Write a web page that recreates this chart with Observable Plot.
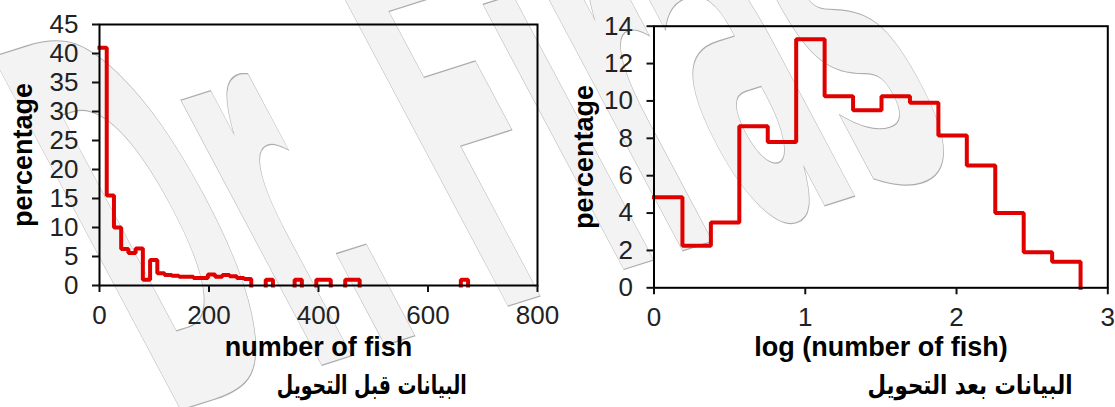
<!DOCTYPE html>
<html>
<head>
<meta charset="utf-8">
<script src="https://cdn.jsdelivr.net/npm/d3@7"></script>
<script src="https://cdn.jsdelivr.net/npm/@observablehq/plot@0.6"></script>
<style>
  html, body { margin: 0; padding: 0; background: #fff; }
  #wrap { position: relative; width: 1115px; height: 407px; overflow: hidden; background: #fff; }
  .chart { position: absolute; top: 0; }
  #wm { position: absolute; left: 0; top: 0; }
  .cap { position: absolute; top: 372px; font-family: "DejaVu Sans", sans-serif; font-weight: bold;
         font-size: 26px; line-height: 1; direction: rtl; white-space: nowrap; color: #000;
         transform-origin: 50% 50%; }
</style>
</head>
<body>
<div id="wrap">
  <svg id="wm" width="1115" height="407">
    <text transform="translate(165,415) rotate(-17.6) skewX(10.4)" textLength="845" lengthAdjust="spacingAndGlyphs"
      font-family="'DejaVu Sans', sans-serif" font-weight="bold" font-size="540"
      fill="#f3f3f3" stroke="#adadad" stroke-width="1.3">Dr. Firas</text>
  </svg>
</div>
<script>
// ---- Left chart: histogram of number of fish (percentage per bin) ----
const leftEdges = [0, 13.2, 26.4, 39.6, 52.8, 66, 79.2, 92.4, 105.6, 118.8, 132, 145.2, 158.4, 171.6,
  184.8, 198, 211.2, 224.4, 237.6, 250.8, 264, 277.2, 290.4, 303.6, 316.8, 330, 343.2, 356.4, 369.6,
  382.8, 396, 409.2, 422.4, 435.6, 448.8, 462, 475.2, 488.4, 501.6, 514.8, 528, 541.2, 554.4, 567.6,
  580.8, 594, 607.2, 620.4, 633.6, 646.8, 660, 673.2];
const leftPct = [41, 15.5, 10, 6.3, 5.6, 6.4, 1.0, 4.4, 2.1, 1.8, 1.7, 1.5, 1.5, 1.3, 1.3, 1.9, 1.5,
  1.8, 1.6, 1.3, 1.1, 0, 0, 1.0, 0, 0, 0, 1.0, 0, 0, 1.0, 1.0, 0, 0, 1.0, 1.0,
  0, 0, 0, 0, 0, 0, 0, 0, 0, 0, 0, 0, 0, 0, 1.0];
const leftXTicks = [0, 200, 400, 600, 800];
const leftYTicks = [0, 5, 10, 15, 20, 25, 30, 35, 40, 45];

// ---- Right chart: histogram of log(number of fish) ----
const rightEdges = [0, 0.188, 0.376, 0.564, 0.752, 0.94, 1.128, 1.316, 1.504, 1.692, 1.88, 2.068,
  2.256, 2.444, 2.632, 2.82];
const rightPct = [4.85, 2.25, 3.5, 8.65, 7.8, 13.3, 10.25, 9.5, 10.25, 9.9, 8.15, 6.55, 4.0, 1.9, 1.4];
const rightXTicks = [0, 1, 2, 3];
const rightYTicks = [0, 2, 4, 6, 8, 10, 12, 14];

const xLabelLeft = "number of fish";
const xLabelRight = "log (number of fish)";
const yLabel = "percentage";
const capLeft = "البيانات قبل التحويل";
const capRight = "البيانات بعد التحويل";

// Build step-outline vertices from bins (runs of non-zero bins become separate paths)
function outline(edges, vals) {
  const pts = [];
  let run = -1;
  for (let i = 0; i < vals.length; i++) {
    if (vals[i] > 0) {
      if (run < 0 || vals[i - 1] === 0) {
        run = i;
        if (i > 0) pts.push({x: edges[i], y: 0, z: run});
      }
      pts.push({x: edges[i], y: vals[i], z: run});
      pts.push({x: edges[i + 1], y: vals[i], z: run});
      if (i === vals.length - 1 || vals[i + 1] === 0) pts.push({x: edges[i + 1], y: 0, z: run});
    }
  }
  return pts;
}

const RED = "#e00000";
const common = {
  fontFamily: "'Liberation Sans', Arial, sans-serif",
  fontSize: "26px",
  color: "#111",
  background: "transparent",
  overflow: "visible"
};

function makeChart({edges, vals, xDomain, xTicks, yDomain, yTicks, width, mL, mR, mT, mB, xLabel, xLabelDy, yLabelDx}) {
  return Plot.plot({
    width, height: 407,
    marginLeft: mL, marginRight: mR, marginTop: mT, marginBottom: mB,
    style: common,
    x: {domain: xDomain},
    y: {domain: yDomain},
    marks: [
      Plot.line(outline(edges, vals), {x: "x", y: "y", z: "z", stroke: RED, strokeWidth: 4,
        strokeLinejoin: "miter", strokeLinecap: "square"}),
      Plot.frame({stroke: "#000", strokeWidth: 2}),
      Plot.axisX({ticks: xTicks, tickSize: 7, tickPadding: 13, tickFormat: d => String(d), label: null,
        strokeWidth: 2, fill: "#222"}),
      Plot.axisY({ticks: yTicks, tickSize: 7, tickPadding: 14, tickFormat: d => String(d), label: null,
        strokeWidth: 2, fill: "#222"}),
      Plot.text([xLabel], {text: d => d, frameAnchor: "bottom", lineAnchor: "middle", textAnchor: "middle",
        dy: xLabelDy, fontWeight: "bold", fontSize: 27, fill: "#000"}),
      Plot.text([yLabel], {text: d => d, frameAnchor: "left", lineAnchor: "middle", textAnchor: "middle",
        rotate: -90, dx: yLabelDx, fontWeight: "bold", fontSize: 27, fill: "#000"})
    ]
  });
}

const wrap = document.getElementById("wrap");

const left = makeChart({edges: leftEdges, vals: leftPct, xDomain: [0, 800], xTicks: leftXTicks,
  yDomain: [0, 45], yTicks: leftYTicks, width: 560, mL: 99, mR: 23, mT: 24, mB: 122,
  xLabel: xLabelLeft, xLabelDy: 62, yLabelDx: -76});
left.classList.add("chart");
left.style.left = "0px";
wrap.appendChild(left);

const right = makeChart({edges: rightEdges, vals: rightPct, xDomain: [0, 3], xTicks: rightXTicks,
  yDomain: [0, 14], yTicks: rightYTicks, width: 555, mL: 93.5, mR: 7.7, mT: 25.7, mB: 119.7,
  xLabel: xLabelRight, xLabelDy: 60, yLabelDx: -69.5});
right.classList.add("chart");
right.style.left = "560px";
wrap.appendChild(right);

// Arabic captions: centre x and target width in pixels
for (const [txt, cx, w] of [[capLeft, 372, 190], [capRight, 970, 205]]) {
  const d = document.createElement("div");
  d.className = "cap";
  d.textContent = txt;
  wrap.appendChild(d);
  const bw = d.getBoundingClientRect().width;
  d.style.left = (cx - bw / 2) + "px";
  d.style.transform = `scaleX(${w / bw})`;
}
</script>
</body>
</html>
